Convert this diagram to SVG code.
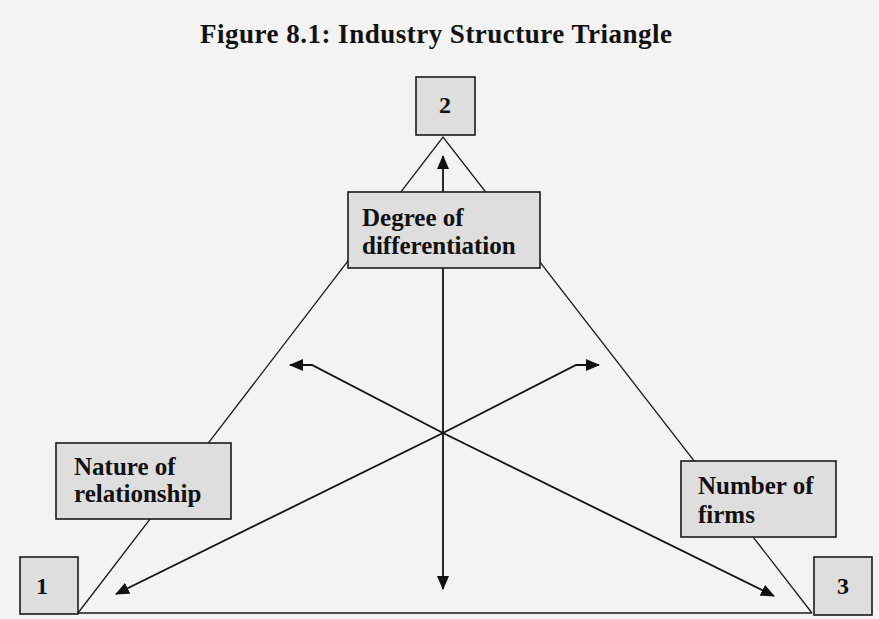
<svg xmlns="http://www.w3.org/2000/svg" width="879" height="619" viewBox="0 0 879 619">
<style>
.bg{fill:#f3f3f3}
.box{fill:#dedede;stroke:#1a1a1a;stroke-width:1.6}
.side{fill:none;stroke:#1a1a1a;stroke-width:1.3}
.arr{fill:none;stroke:#111;stroke-width:1.8;marker-end:url(#ah)}
.lbl{font-family:"Liberation Serif","Times New Roman",serif;font-weight:bold;font-size:25px;fill:#111}
.num{font-family:"Liberation Serif","Times New Roman",serif;font-weight:bold;font-size:24px;fill:#111;text-anchor:middle}
.title{font-family:"Liberation Serif","Times New Roman",serif;font-weight:bold;font-size:27px;fill:#111}
</style>
<defs>
<marker id="ah" viewBox="0 0 14 12" refX="13" refY="6" markerWidth="14" markerHeight="12" markerUnits="userSpaceOnUse" orient="auto">
<path d="M0,0 L14,6 L0,12 Z" fill="#111"/>
</marker>
</defs>
<rect class="bg" x="0" y="0" width="879" height="619"/>
<text class="title" x="200" y="43" textLength="472" lengthAdjust="spacing">Figure 8.1: Industry Structure Triangle</text>
<g id="connectors">
<polyline class="side" points="78,613 443,137 812,613"/>
<line class="side" x1="78" y1="613" x2="812" y2="613"/>
<path class="arr" d="M443,192 L443,156"/>
<path class="arr" d="M443,268 L443,589"/>
<path class="arr" d="M443,433 L312,365 L290,365"/>
<path class="arr" d="M443,433 L576,365 L599,365"/>
<path class="arr" d="M443,433 L116,594"/>
<path class="arr" d="M443,433 L774,596"/>
</g>
<g id="node-2">
<rect class="box" x="416" y="77" width="59" height="58"/>
<text class="num" x="445" y="113">2</text>
</g>
<g id="node-degree">
<rect class="box" x="348" y="192" width="192" height="76"/>
<text class="lbl" x="362" y="226">Degree of</text>
<text class="lbl" x="362" y="254">differentiation</text>
</g>
<g id="node-nature">
<rect class="box" x="56" y="443" width="175" height="76"/>
<text class="lbl" x="74" y="475">Nature of</text>
<text class="lbl" x="74" y="502">relationship</text>
</g>
<g id="node-number">
<rect class="box" x="681" y="461" width="155" height="76"/>
<text class="lbl" x="698" y="494">Number of</text>
<text class="lbl" x="698" y="523">firms</text>
</g>
<g id="node-1">
<rect class="box" x="20" y="557" width="58" height="57"/>
<text class="num" x="42" y="594">1</text>
</g>
<g id="node-3">
<rect class="box" x="814" y="557" width="58" height="58"/>
<text class="num" x="843" y="594">3</text>
</g>
</svg>
